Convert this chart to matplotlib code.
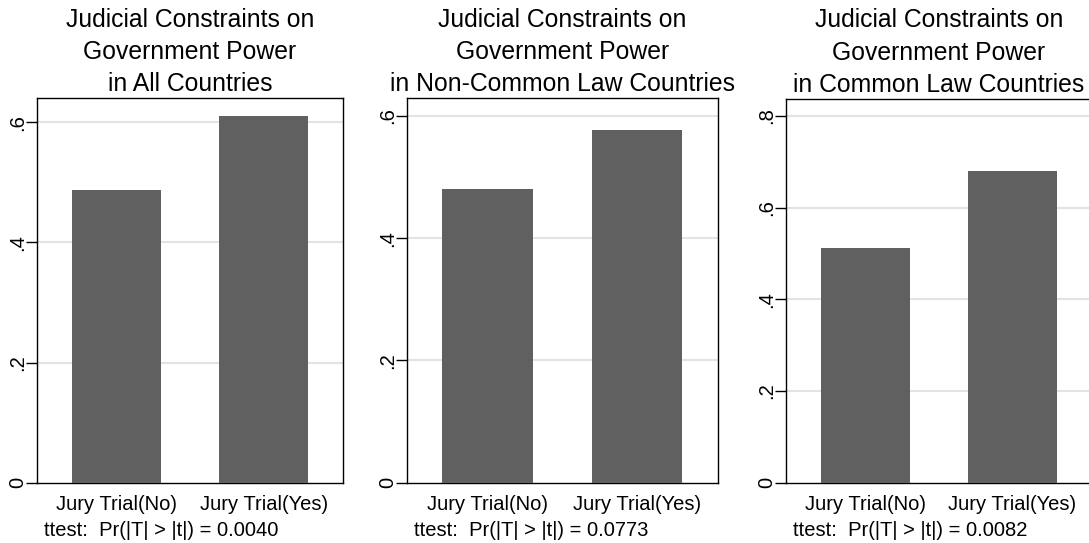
import matplotlib.pyplot as plt
import numpy as np

plt.rcParams['font.family'] = ['Liberation Sans', 'DejaVu Sans']

categories = ['Jury Trial(No)', 'Jury Trial(Yes)']
all_countries = [0.487, 0.611]
non_common = [0.480, 0.577]
common = [0.511, 0.680]
titles = ['Judicial Constraints on\nGovernment Power\nin All Countries',
          'Judicial Constraints on\nGovernment Power\nin Non-Common Law Countries',
          'Judicial Constraints on\nGovernment Power\nin Common Law Countries']
pvalues = ['0.0040', '0.0773', '0.0082']
yticks = [[0, .2, .4, .6], [0, .2, .4, .6], [0, .2, .4, .6, .8]]
ytop = [0.64, 0.629, 0.837]

fig = plt.figure(figsize=(10.89, 5.43), dpi=100)
positions = [[0.034, 0.111, 0.281, 0.708],
             [0.3735, 0.111, 0.2856, 0.708],
             [0.7215, 0.111, 0.2813, 0.7066]]

series = [all_countries, non_common, common]
x = np.arange(len(categories))
for i in range(3):
    ax = fig.add_axes(positions[i])
    ax.bar(x, series[i], width=0.605, color='#606060', zorder=3)
    ax.set_xlim(-0.54, 1.54)
    ax.set_ylim(0, ytop[i])
    ax.set_yticks(yticks[i])
    ax.set_yticklabels(['0' if v == 0 else ('%.1f' % v)[1:] for v in yticks[i]],
                       rotation=90, va='center', fontsize=14.5)
    ax.set_xticks(x)
    ax.set_xticklabels(categories, fontsize=14.5)
    ax.tick_params(axis='x', length=0, pad=9)
    ax.tick_params(axis='y', length=8, width=1, pad=-1)
    for v in yticks[i][1:]:
        ax.axhline(v, color='#e3e3e3', lw=1.5, zorder=1)
    for s in ax.spines.values():
        s.set_linewidth(1)
    ax.set_title(titles[i], fontsize=17.8, linespacing=1.44, pad=5)
    ax.text(0.023, -0.125, 'ttest:  Pr(|T| > |t|) = ' + pvalues[i],
            transform=ax.transAxes, ha='left', va='center', fontsize=14.5)

fig.savefig('out.png', dpi=100)
